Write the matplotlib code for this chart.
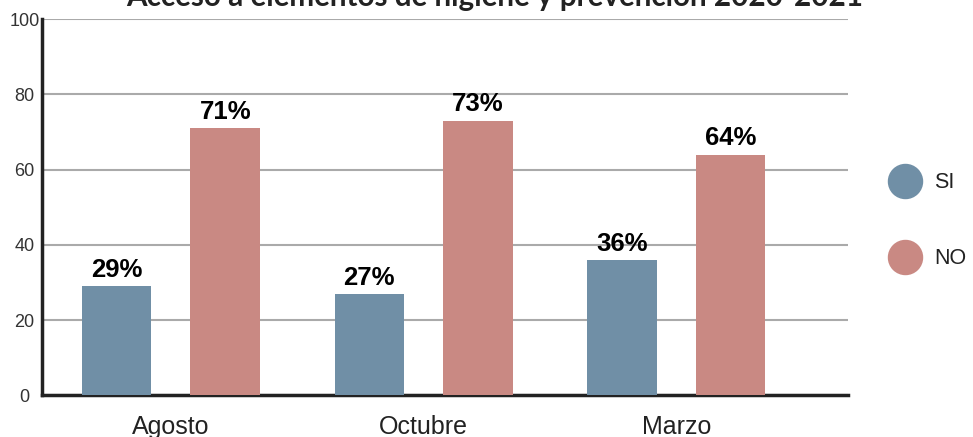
import numpy as np
import matplotlib.pyplot as plt
from matplotlib.lines import Line2D

# datos
meses = ["Agosto", "Octubre", "Marzo"]
si = [29, 27, 36]
no = [71, 73, 64]
yticks = [0, 20, 40, 60, 80, 100]

c_si = "#708fa6"
c_no = "#c98983"

fig = plt.figure(figsize=(9.73, 4.37), dpi=100)
ax = fig.add_axes([0.0432, 0.095, 0.8284, 0.8615])

x = np.arange(len(meses))
w = 0.275
off = 0.215
b1 = ax.bar(x - off, si, w, color=c_si, zorder=3)
b2 = ax.bar(x + off, no, w, color=c_no, zorder=3)

for b in (b1, b2):
    ax.bar_label(b, labels=[f"{v}%" for v in b.datavalues], padding=3,
                 fontsize=18.5, fontweight="bold", family="Liberation Sans",
                 color="black")

ax.set_xlim(-0.51, 2.68)
ax.set_ylim(0, 100)
ax.set_yticks(yticks)
ax.set_xticks(x)
ax.set_xticklabels(meses, fontsize=18, family="Liberation Sans", color="#222222")
ax.tick_params(axis="x", length=0, pad=14)
ax.tick_params(axis="y", length=0, pad=12.5, labelsize=13, labelcolor="#333333")
for t in ax.get_yticklabels():
    t.set_horizontalalignment("center")
    t.set_family("Liberation Sans")

ax.grid(axis="y", color="#aaaaaa", lw=1.5, zorder=0)
for s in ("top", "right"):
    ax.spines[s].set_visible(False)
ax.spines["left"].set_linewidth(2.5)
ax.spines["bottom"].set_linewidth(2.5)
ax.spines["left"].set_color("#222222")
ax.spines["bottom"].set_color("#222222")

fig.text(0.508, 0.986, "Acceso a elementos de higiene y prevención 2020-2021",
         ha="center", va="baseline", fontsize=21.3, fontweight="bold",
         family="Lato", color="#222222")

handles = [Line2D([], [], ls="", marker="o", ms=24.5, color=c_si),
           Line2D([], [], ls="", marker="o", ms=24.5, color=c_no)]
fig.legend(handles, ["SI", "NO"], loc="center left",
           bbox_to_anchor=(0.894, 0.495), frameon=False,
           prop={"family": "Liberation Sans", "size": 15.5},
           labelspacing=2.55, handletextpad=0.6, handlelength=1.5,
           labelcolor="#222222")

fig.savefig("out.png", dpi=100)
